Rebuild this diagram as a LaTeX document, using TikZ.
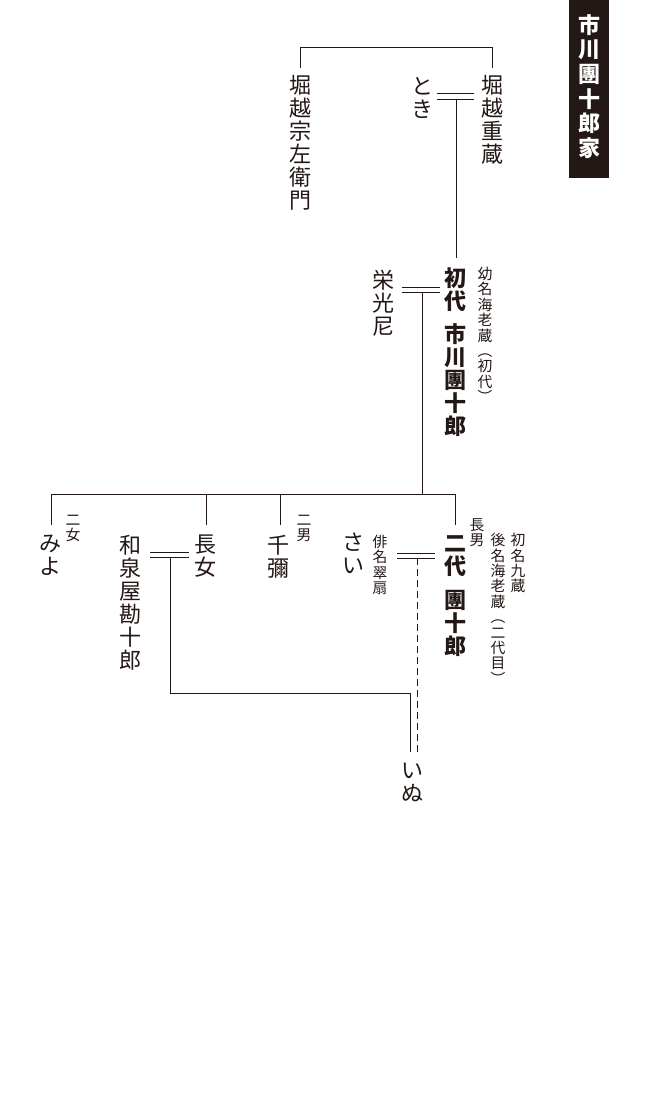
\documentclass[tikz,border=0pt]{standalone}
\usepackage{fontspec}
\newfontfamily\jp{Noto Sans CJK JP}
\makeatletter
\newcommand\tatebox[2]{\vbox{\baselineskip=#1\lineskiplimit=-100pt\lineskip=0pt\@tfor\tate@c:=#2\do{\hbox to #1{\hss\tate@c\hss}}}}
\makeatother
\definecolor{ink}{RGB}{35,24,21}
\tikzset{
  reg/.style={inner sep=0pt, anchor=north, text=ink, font=\jp\fontsize{22pt}{23pt}\selectfont},
  bld/.style={inner sep=0pt, anchor=north, text=ink, font=\jp\bfseries\fontsize{22pt}{23pt}\selectfont},
  sml/.style={inner sep=0pt, anchor=north, text=ink, font=\jp\fontsize{14.8pt}{15.4pt}\selectfont},
  ttl/.style={inner sep=0pt, anchor=north, text=white, font=\jp\bfseries\fontsize{22pt}{25pt}\selectfont},
  conn/.style={draw=ink, line width=0.9pt},
  dashconn/.style={conn, dash pattern=on 7pt off 4pt},
}
\begin{document}
\begin{tikzpicture}[x=1pt,y=-1pt]
\useasboundingbox[fill=white] (0,0) rectangle (650,1110);
% title
\fill[ink] (569,0) rectangle (609,178);
\node[ttl] (title) at (589,14) {\tatebox{24.7pt}{市川團十郎家}};
% generation 1
\node[reg] (sozaemon) at (300,75) {\tatebox{23pt}{堀越宗左衛門}};
\node[reg] (shigezo) at (492,75) {\tatebox{23pt}{堀越重蔵}};
\node[reg] (toki) at (422,77) {\tatebox{23pt}{とき}};
% generation 2
\node[bld] (shodaiA) at (455,268) {\tatebox{23pt}{初代}};
\node[bld] (shodaiB) at (455,323) {\tatebox{23pt}{市川團十郎}};
\node[sml] (yomyo) at (485,267) {\tatebox{15.4pt}{幼名海老蔵︵初代︶}};
\node[reg] (eikoni) at (383,270) {\tatebox{23pt}{栄光尼}};
% generation 3
\node[reg] (miyo) at (50,535) {\tatebox{23pt}{みよ}};
\node[sml] (jijo) at (73,515) {\tatebox{15.4pt}{二女}};
\node[reg] (izumiya) at (130,535) {\tatebox{23pt}{和泉屋勘十郎}};
\node[reg] (chojo) at (205,535) {\tatebox{23pt}{長女}};
\node[reg] (senya) at (278,535) {\tatebox{23pt}{千彌}};
\node[sml] (jinan) at (304,515) {\tatebox{15.4pt}{二男}};
\node[reg] (sai) at (353,533) {\tatebox{23pt}{さい}};
\node[sml] (haimyo) at (380,535) {\tatebox{15.4pt}{俳名翠扇}};
\node[bld] (nidaiA) at (455,535) {\tatebox{23pt}{二代}};
\node[bld] (nidaiB) at (455,590) {\tatebox{23pt}{團十郎}};
\node[sml] (chonan) at (477,518) {\tatebox{15.4pt}{長男}};
\node[sml] (gomei) at (498,533) {\tatebox{15.4pt}{後名海老蔵︵二代目︶}};
\node[sml] (shomei) at (518,533) {\tatebox{15.4pt}{初名九蔵}};
% generation 4
\node[reg] (inu) at (412,763) {\tatebox{23pt}{いぬ}};
% junction coordinates
\coordinate (sozTop) at (300,68);
\coordinate (shiTop) at (492,68);
\coordinate (barL) at (300,47);
\coordinate (barR) at (492,47);
\coordinate (m1a) at (437,93); \coordinate (m1b) at (474,93);
\coordinate (m1c) at (437,99); \coordinate (m1d) at (474,99);
\coordinate (m1mid) at (456,99); \coordinate (m1end) at (456,258);
\coordinate (m2a) at (402,287); \coordinate (m2b) at (440,287);
\coordinate (m2c) at (402,292); \coordinate (m2d) at (440,292);
\coordinate (m2mid) at (422,292); \coordinate (sib) at (422,494);
\coordinate (sibL) at (51,494); \coordinate (sibR) at (455,494);
\coordinate (dMiyo) at (51,525); \coordinate (dChojo) at (206,525);
\coordinate (dSenya) at (280,525); \coordinate (dNidai) at (455,525);
\coordinate (m3a) at (150,552); \coordinate (m3b) at (189,552);
\coordinate (m3c) at (150,557); \coordinate (m3d) at (189,557);
\coordinate (m3mid) at (170,557); \coordinate (m3low) at (170,693);
\coordinate (inuTop) at (410,752);
\coordinate (m4a) at (397,553); \coordinate (m4b) at (435,553);
\coordinate (m4c) at (397,558); \coordinate (m4d) at (435,558);
\coordinate (m4mid) at (417,558); \coordinate (inuTop2) at (417,752);
% connectors
\draw[conn] (sozTop) -- (barL) -- (barR) -- (shiTop);
\draw[conn] (m1a) -- (m1b);
\draw[conn] (m1c) -- (m1d);
\draw[conn] (m1mid) -- (m1end);
\draw[conn] (m2a) -- (m2b);
\draw[conn] (m2c) -- (m2d);
\draw[conn] (m2mid) -- (sib);
\draw[conn] (sibL) -- (sibR);
\draw[conn] (sibL) -- (dMiyo);
\draw[conn] (dChojo |- sibL) -- (dChojo);
\draw[conn] (dSenya |- sibL) -- (dSenya);
\draw[conn] (sibR) -- (dNidai);
\draw[conn] (m3a) -- (m3b);
\draw[conn] (m3c) -- (m3d);
\draw[conn] (m3mid) -- (m3low) -| (inuTop);
\draw[conn] (m4a) -- (m4b);
\draw[conn] (m4c) -- (m4d);
\draw[dashconn] (m4mid) -- (inuTop2);
\end{tikzpicture}
\end{document}
